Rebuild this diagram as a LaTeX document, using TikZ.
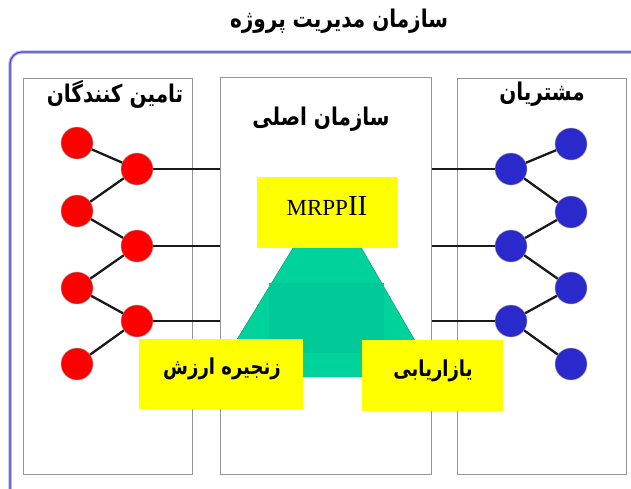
\documentclass[tikz,border=0pt]{standalone}
\usepackage{fontspec}
\setmainfont{Liberation Serif}
\newfontfamily\arabicfont[Script=Arabic, FakeStretch=0.82]{DejaVu Sans}
\TeXXeTstate=1
\definecolor{framec}{RGB}{70,70,190}
\definecolor{frameglow}{RGB}{185,185,235}
\definecolor{panelc}{RGB}{150,150,150}
\definecolor{redc}{RGB}{255,0,0}
\definecolor{bluec}{RGB}{42,42,204}
\definecolor{greenc}{RGB}{0,210,155}
\definecolor{greendark}{RGB}{0,200,150}
\definecolor{yellowc}{RGB}{255,255,0}
\tikzset{
  panel/.style={draw=panelc, line width=1.2pt, fill=white, anchor=north west, inner sep=0pt},
  redball/.style={circle, fill=redc, draw=gray!70, line width=0.4pt, minimum size=32pt, inner sep=0pt},
  blueball/.style={circle, fill=bluec, draw=gray!70, line width=0.4pt, minimum size=32pt, inner sep=0pt},
  link/.style={draw=black!90, line width=2.3pt},
  ybox/.style={fill=yellowc, anchor=north west, inner sep=0pt},
  artext/.style={font=\arabicfont\bfseries\fontsize{24.4}{28}\selectfont, inner sep=0pt},
  yartext/.style={font=\arabicfont\bfseries\fontsize{22}{26}\selectfont, inner sep=0pt},
}
\begin{document}
\begin{tikzpicture}[x=1pt,y=-1pt]
\useasboundingbox (0,0) rectangle (631,488);
\begin{scope}
\clip (0,0) rectangle (631,488);
\draw[frameglow, line width=3.5pt, rounded corners=12pt] (10,520) -- (10,52) -- (660,52);
\draw[framec, line width=1.2pt, rounded corners=12pt] (10,520) -- (10,52) -- (660,52);
\end{scope}
% title
\node[artext] (title) at (339,21) {\beginR سازمان مدیریت پروژه\endR};
% panels
\node[panel, minimum width=169pt, minimum height=396pt] (sup) at (23,78) {};
\node[panel, minimum width=211pt, minimum height=397pt] (org) at (220,77) {};
\node[panel, minimum width=169pt, minimum height=396pt] (cus) at (457,78) {};
% panel labels
\node[artext] (supl) at (115,94) {\beginR تامین کنندگان\endR};
\node[artext] (cusl) at (542,94) {\beginR مشتریان\endR};
\node[artext] (orgl) at (321,119) {\beginR سازمان اصلی\endR};
% red balls
\node[redball] (ro1) at (77,143) {};
\node[redball] (ro2) at (77,211) {};
\node[redball] (ro3) at (77,288) {};
\node[redball] (ro4) at (77,364) {};
\node[redball] (ri1) at (137,169) {};
\node[redball] (ri2) at (137,246) {};
\node[redball] (ri3) at (137,321) {};
% blue balls
\node[blueball] (bo1) at (571,144) {};
\node[blueball] (bo2) at (571,212) {};
\node[blueball] (bo3) at (571,288) {};
\node[blueball] (bo4) at (571,364) {};
\node[blueball] (bi1) at (511,169) {};
\node[blueball] (bi2) at (511,246) {};
\node[blueball] (bi3) at (511,321) {};
% links
\draw[link] (ro1) -- (ri1);
\draw[link] (ri1) -- (ro2);
\draw[link] (ro2) -- (ri2);
\draw[link] (ri2) -- (ro3);
\draw[link] (ro3) -- (ri3);
\draw[link] (ri3) -- (ro4);
\draw[link] (bo1) -- (bi1);
\draw[link] (bi1) -- (bo2);
\draw[link] (bo2) -- (bi2);
\draw[link] (bi2) -- (bo3);
\draw[link] (bo3) -- (bi3);
\draw[link] (bi3) -- (bo4);
\draw[link] (ri1.east) -- (ri1 -| org.west);
\draw[link] (ri2.east) -- (ri2 -| org.west);
\draw[link] (ri3.east) -- (ri3 -| org.west);
\draw[link] (bi1.west) -- (bi1 -| org.east);
\draw[link] (bi2.west) -- (bi2 -| org.east);
\draw[link] (bi3.west) -- (bi3 -| org.east);
% trapezoid
\fill[greenc, draw=greenc!70!black, line width=0.4pt] (214,377) -- (304,230) -- (351,230) -- (436,377) -- cycle;
\fill[greendark] (269,283) rectangle (384,353);
% yellow boxes
\node[ybox, minimum width=141pt, minimum height=71pt] (mrp) at (257,177) {};
\node[inner sep=0pt, font=\fontsize{23}{26}\selectfont] (mrpt) at (327,206) {MRPP{\fontsize{29}{30}\selectfont II}};
\node[ybox, minimum width=164pt, minimum height=70pt] (vc) at (139,339) {};
\node[yartext] (vct) at (222,369) {\beginR زنجیره ارزش\endR};
\node[ybox, minimum width=141pt, minimum height=71pt] (mk) at (362,340) {};
\node[yartext] (mkt) at (433,371) {\beginR یازاریابی\endR};
\end{tikzpicture}
\end{document}
